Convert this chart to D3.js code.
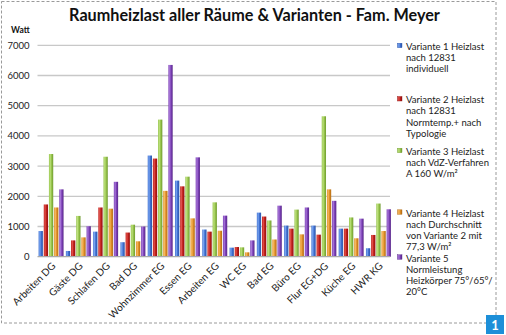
<!DOCTYPE html>
<html><head><meta charset="utf-8">
<script src="https://cdn.jsdelivr.net/npm/d3@7"></script>
<style>
html,body{margin:0;padding:0;background:#fff;}
svg{display:block;font-family:Lato,"Open Sans",sans-serif;}
</style></head>
<body><svg id="c" width="506" height="335"></svg>
<script>
const categories = ["Arbeiten DG","Gäste DG","Schlafen DG","Bad DG","Wohnzimmer EG","Essen EG","Arbeiten EG","WC EG","Bad EG","Büro EG","Flur EG+DG","Küche EG","HWR KG"];
const variante1 = [850,190,830,480,3350,2520,900,300,1460,1030,1030,930,280];
const variante2 = [1730,540,1630,800,3250,2330,830,320,1330,930,730,930,720];
const variante3 = [3400,1350,3310,1060,4540,2650,1800,310,1200,1560,4650,1300,1760];
const variante4 = [1630,640,1590,510,2180,1270,860,145,570,740,2230,610,850];
const variante5 = [2230,1010,2480,1000,6350,3290,1360,540,1690,1630,1850,1260,1570];
const seriesNames = ["Variante 1 Heizlast\nnach 12831\nindividuell","Variante 2 Heizlast\nnach 12831\nNormtemp.+ nach\nTypologie","Variante 3 Heizlast\nnach VdZ-Verfahren\nA 160 W/m²","Variante 4 Heizlast\nnach Durchschnitt\nvon Variante 2 mit\n77,3 W/m²","Variante 5\nNormleistung\nHeizkörper 75°/65°/\n20°C"];
const yTicks = [0,1000,2000,3000,4000,5000,6000,7000];
const titleText = "Raumheizlast aller Räume & Varianten - Fam. Meyer";
const yUnit = "Watt";
const badgeText = "1";

const seriesValues = [variante1,variante2,variante3,variante4,variante5];
const colors = [["#7aa6f0","#3f6fd0","#2c55a8"],["#e0534d","#c01e1b","#8f1210"],["#bde07c","#96c44c","#6f9a2e"],["#f5b860","#e08f26","#b06a14"],["#a878d8","#7b3fb6","#582888"]];

const svg = d3.select("#c");
const defs = svg.append("defs");
colors.forEach((c,i)=>{
  const g = defs.append("linearGradient").attr("id","g"+i).attr("x1","0").attr("x2","1").attr("y1","0").attr("y2","0");
  g.append("stop").attr("offset","0").attr("stop-color",c[1]);
  g.append("stop").attr("offset","0.3").attr("stop-color",c[0]);
  g.append("stop").attr("offset","0.6").attr("stop-color",c[1]);
  g.append("stop").attr("offset","1").attr("stop-color",c[2]);
});

// frame
svg.append("rect").attr("x",1.5).attr("y",1.5).attr("width",494.5).attr("height",321.5)
  .attr("fill","none").attr("stroke","#9a9a9a").attr("stroke-dasharray","3,2").attr("stroke-width",1);

const x0 = d3.scaleBand().domain(categories).range([37.5,392]).paddingInner(0.085).paddingOuter(0.04);
const x1 = d3.scaleBand().domain(d3.range(5)).range([0,x0.bandwidth()]).paddingInner(0.17);
const y = d3.scaleLinear().domain([0,7000]).range([256.7,45.3]);

// gridlines
svg.append("g").selectAll("line").data(yTicks.slice(1)).join("line")
  .attr("x1",37.5).attr("x2",390).attr("y1",d=>y(d)).attr("y2",d=>y(d))
  .attr("stroke","#c8c8c8").attr("stroke-width",1.3);

// y axis labels
const yAxis = d3.axisLeft(y).tickValues(yTicks).tickFormat(d3.format("d")).tickSize(0).tickPadding(8);
const ya = svg.append("g").attr("transform","translate(37.5,0)").call(yAxis);
ya.select(".domain").remove();
ya.selectAll("text").attr("font-size",9.5).attr("fill","#222").attr("font-family","Lato,sans-serif");

svg.append("text").attr("x",11).attr("y",33).attr("font-size",8.5).attr("font-weight","bold").attr("fill","#111").text(yUnit);

// bars
const groups = svg.append("g").selectAll("g").data(categories).join("g")
  .attr("transform",d=>`translate(${x0(d)},0)`);
groups.selectAll("rect").data((d,ci)=>seriesValues.map((s,si)=>({si,v:s[ci]}))).join("rect")
  .attr("x",d=>x1(d.si)).attr("width",x1.bandwidth())
  .attr("y",d=>y(d.v)).attr("height",d=>y(0)-y(d.v))
  .attr("fill",d=>`url(#g${d.si})`);

// x axis line
svg.append("line").attr("x1",37.5).attr("x2",390).attr("y1",y(0)).attr("y2",y(0)).attr("stroke","#aaa").attr("stroke-width",1.3);

// x labels
const xAxis = d3.axisBottom(x0).tickSize(0).tickPadding(0);
const xa = svg.append("g").attr("transform",`translate(0,${y(0)})`).call(xAxis);
xa.select(".domain").remove();
xa.selectAll("text").attr("font-size",10).attr("fill","#222").attr("font-family","Lato,sans-serif")
  .attr("text-anchor","end").attr("dy",0).attr("y",0)
  .attr("transform","translate(5,10) rotate(-45)");

// title
const t = svg.append("text").attr("x",254).attr("y",21).attr("text-anchor","middle")
  .attr("font-size",16).attr("font-weight","bold").attr("fill","#111").text(titleText);
const tw = t.node().getComputedTextLength();
t.attr("font-size",16*371/tw).attr("x",69+185.5);

// legend
const legY = [46.7,100,151.7,213.3,258.3];
const leg = svg.append("g").selectAll("g").data(seriesNames).join("g")
  .attr("transform",(d,i)=>`translate(397.5,${legY[i]})`);
leg.append("rect").attr("x",0).attr("y",-3.5).attr("width",4.5).attr("height",4.5).attr("fill",(d,i)=>`url(#g${i})`).attr("stroke",(d,i)=>colors[i][2]).attr("stroke-width",0.4);
leg.append("text").attr("x",8).attr("y",3.2).attr("font-size",9.5).attr("fill","#222")
  .selectAll("tspan").data(d=>d.split("\n")).join("tspan").attr("x",8.5).attr("dy",(d,i)=>i?11.2:0).text(d=>d);

// badge
svg.append("rect").attr("x",486).attr("y",315).attr("width",18).attr("height",19).attr("fill","#1d8fd8");
svg.append("text").attr("x",495).attr("y",330).attr("text-anchor","middle").attr("font-size",13).attr("font-weight","bold").attr("fill","#fff").text(badgeText);
</script></body></html>
